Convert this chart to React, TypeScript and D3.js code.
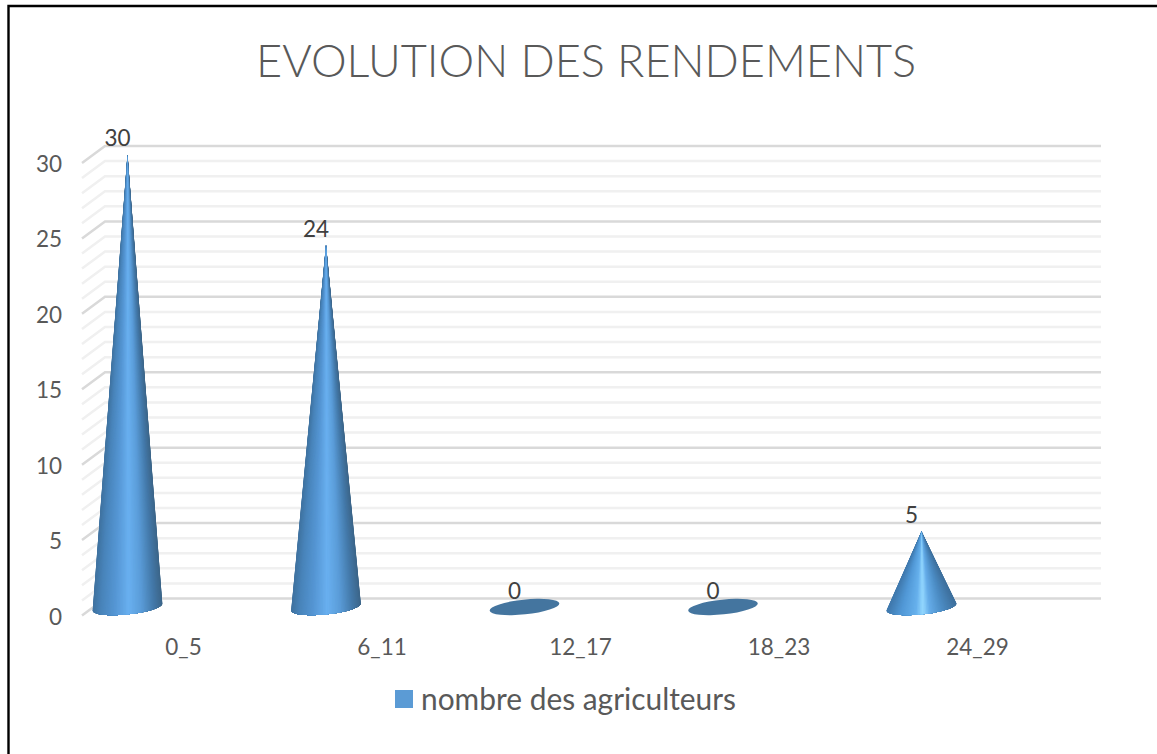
import React from "react";
import * as d3 from "d3";

const categories = ["0_5", "6_11", "12_17", "18_23", "24_29"];
const values = [30, 24, 0, 0, 5];
const yTicks = [0, 5, 10, 15, 20, 25, 30];
const minorTicks = d3.range(0, 31);
const titleText = "EVOLUTION DES RENDEMENTS";
const seriesName = "nombre des agriculteurs";

const W = 1157, H = 754;
const FONT = "Lato, 'Noto Sans', sans-serif";
const x = d3.scalePoint<string>().domain(categories).range([127.5, 921.5]);
const yFront = d3.scaleLinear().domain([0, 30]).range([615.5, 163]);
const DEPTH_X = 23, DEPTH_Y = 17;
const yBack = (v: number) => yFront(v) - DEPTH_Y;
const yBase = (v: number) => yFront(v) - 8.5;
const RX = 35, RY = 7.4, ROT = (-6 * Math.PI) / 180;
const ramp = d3.scaleLinear<string>()
  .domain([0, 0.12, 0.32, 0.52, 0.7, 0.88, 1])
  .range(["#3f729f", "#4884ba", "#5596d4", "#69b0f0", "#5a9cd8", "#4378a8", "#3c6588"]);
const rampShort = d3.scaleLinear<string>()
  .domain([0, 0.2, 0.42, 0.52, 0.62, 0.8, 1])
  .range(["#3f78ac", "#5198d6", "#66b0ec", "#94d8ff", "#64ace8", "#4c8cc4", "#3d6f9c"]);

function ellipsePoint(cx: number, cy: number, a: number) {
  const ex = RX * Math.cos(a), ey = RY * Math.sin(a);
  return [cx + ex * Math.cos(ROT) - ey * Math.sin(ROT), cy + ex * Math.sin(ROT) + ey * Math.cos(ROT)];
}

function Cone({ cat, value }: { cat: string; value: number }) {
  const cx = x(cat)!;
  const cy = yBase(0);
  if (value === 0) {
    return <ellipse cx={cx} cy={cy} rx={RX} ry={RY} fill="#44759f"
      transform={`rotate(-6 ${cx} ${cy})`} />;
  }
  const ax = cx, ay = yBase(value);
  const dx = ax - cx, dy = ay - cy;
  const ux = (dx * Math.cos(ROT) + dy * Math.sin(ROT)) / RX;
  const uy = (-dx * Math.sin(ROT) + dy * Math.cos(ROT)) / RY;
  const base = Math.atan2(uy, ux);
  const half = Math.acos(1 / Math.hypot(ux, uy));
  const a0 = base - half + 2 * Math.PI;
  const a1 = base + half;
  const N = 70;
  const scale = value < 10 ? rampShort : ramp;
  const rim = d3.range(N + 1).map((k) => ellipsePoint(cx, cy, a0 + ((a1 + (a1 < a0 ? 0 : -2 * Math.PI) - a0) * k) / N));
  const tOf = (k: number) => {
    const mid = (rim[k][0] + rim[k + 1][0]) / 2;
    return Math.max(0, Math.min(1, (mid - (cx - RX)) / (2 * RX)));
  };
  let peak = 0;
  d3.range(N).forEach((k) => { if (Math.abs(tOf(k) - 0.52) < Math.abs(tOf(peak) - 0.52)) peak = k; });
  const fan = (from: number, to: number) =>
    `M${ax},${ay}` + rim.slice(from, to + 1).map((p) => `L${p[0]},${p[1]}`).join("") + "Z";
  const layers: { k: number; d: string; c: string; order: number }[] = [];
  d3.range(0, peak + 1).forEach((k) => layers.push({ k, d: fan(k, peak + 1), c: scale(tOf(k)), order: k / (peak + 1) }));
  d3.range(N - 1, peak, -1).forEach((k) => layers.push({ k: k + 1000, d: fan(peak, k + 1), c: scale(tOf(k)), order: (N - 1 - k) / (N - peak) }));
  layers.sort((p, q) => p.order - q.order);
  return <g>{layers.map((l) => <path key={l.k} d={l.d} fill={l.c} />)}</g>;
}

export default function App() {
  return (
    <svg width={W} height={H} viewBox={`0 0 ${W} ${H}`}
      style={{ position: "fixed", left: 0, top: 0, background: "#fff", fontFamily: FONT }}>
      <path d={`M8.5,${H}V6H${W}`} fill="none" stroke="#000" strokeWidth={2.4} />
      <text x={586} y={77} textAnchor="middle" fontSize={46} fontWeight={300} fill="#595959"
        textLength={660} lengthAdjust="spacingAndGlyphs">{titleText}</text>

      {minorTicks.filter((v) => v % 5 !== 0).map((v) => (
        <path key={v} d={`M82,${yFront(v)}L${82 + DEPTH_X},${yBack(v)}H1101`} fill="none" stroke="#f0f0f0" strokeWidth={2.5} />
      ))}
      {yTicks.map((v) => (
        <path key={v} d={`M82,${yFront(v)}L${82 + DEPTH_X},${yBack(v)}H1101`} fill="none" stroke="#d9d9d9" strokeWidth={2.5} />
      ))}
      {yTicks.map((v) => (
        <text key={v} x={62} y={yFront(v) + 9} textAnchor="end" fontSize={22.5} fill="#595959">{v}</text>
      ))}
      {categories.map((c, i) => <Cone key={c} cat={c} value={values[i]} />)}
      {categories.map((c, i) => (
        <text key={c} x={x(c)! - 10} y={yBack(values[i])} textAnchor="middle" fontSize={22.5} fill="#404040">{values[i]}</text>
      ))}
      {categories.map((c) => (
        <text key={c} x={x(c)! + 56} y={654.5} textAnchor="middle" fontSize={22.5} fill="#595959">{c}</text>
      ))}
      <rect x={395} y={690} width={18} height={18} fill="#5b9bd5" />
      <text x={421} y={709.5} fontSize={30} fill="#595959" textLength={315} lengthAdjust="spacingAndGlyphs">{seriesName}</text>
    </svg>
  );
}
